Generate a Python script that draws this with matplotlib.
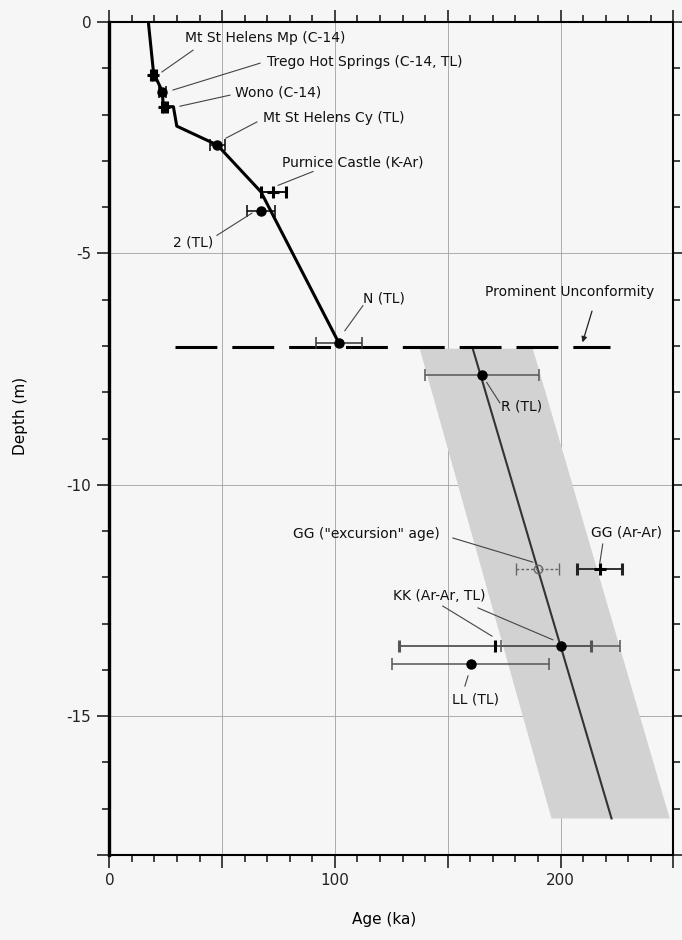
import matplotlib
matplotlib.use("Agg")
import matplotlib.pyplot as plt
from matplotlib.ticker import MultipleLocator

# age-depth model, upper section (ka, m)
upper_age = [17.3, 19.6, 23.5, 23.9, 28.4, 29.9, 47.9, 67.2, 101.8]
upper_depth = [0.0, -1.1, -1.5, -1.83, -1.83, -2.25, -2.66, -3.67, -6.94]

# age-depth model below the unconformity
lower_age = [161.1, 189.9, 200.0, 222.6]
lower_depth = [-7.06, -11.82, -13.48, -17.21]

# uncertainty envelope of the lower model
band_age = [137.6, 187.7, 248.4, 196.0]
band_depth = [-7.06, -7.06, -17.21, -17.21]

# unconformity
unconf_age = [29.1, 221.9]
unconf_depth = [-7.03, -7.03]

# dated horizons: filled circles
dot_names = ["Trego Hot Springs", "Mt St Helens Cy", "2", "N", "R", "KK TL", "LL"]
dot_age = [23.5, 47.9, 67.2, 101.8, 165.1, 200.0, 160.1]
dot_depth = [-1.51, -2.66, -4.08, -6.94, -7.62, -13.48, -13.88]
dot_err = [1.6, 3.3, 6.05, 10.2, 25.2, 26.3, 34.7]
dot_color = ["black", "black", "black", "#333333", "#555555", "#555555", "#555555"]

# dated horizons: crosses
cross_names = ["Mt St Helens Mp", "Wono", "Purnice Castle", "GG Ar-Ar", "KK Ar-Ar"]
cross_age = [19.5, 24.4, 72.7, 217.4, 170.9]
cross_depth = [-1.15, -1.83, -3.67, -11.82, -13.48]
cross_err = [1.0, 1.2, 5.5, 9.9, 42.5]
cross_color = ["black", "black", "black", "#222222", "#555555"]

# GG "excursion" age (open symbol, dashed bar)
exc_age, exc_depth, exc_err = 189.8, -11.82, 9.7

# labels: text, text position, leader start, leader end
labels = [
    ("Mt St Helens Mp (C-14)", 33.5, -0.35, "left", (37.1, -0.61), (23.3, -1.08)),
    ("Trego Hot Springs (C-14, TL)", 69.9, -0.87, "left", (66.8, -0.89), (28.2, -1.47)),
    ("Wono (C-14)", 55.7, -1.52, "left", (53.5, -1.58), (31.3, -1.82)),
    ("Mt St Helens Cy (TL)", 68.0, -2.08, "left", (65.4, -2.16), (51.7, -2.51)),
    ("Purnice Castle (K-Ar)", 76.4, -3.03, "left", (90.3, -3.23), (74.8, -3.53)),
    ("2 (TL)", 45.9, -4.76, "right", (47.7, -4.61), (63.2, -4.13)),
    ("N (TL)", 112.4, -5.97, "left", (112.4, -6.13), (104.4, -6.67)),
    ("R (TL)", 173.4, -8.31, "left", (173.1, -8.23), (167.3, -7.79)),
    ('GG ("excursion" age)', 146.5, -11.06, "right", (152.3, -11.15), (187.7, -11.67)),
    ("GG (Ar-Ar)", 213.7, -11.04, "left", (218.7, -11.28), (217.4, -11.69)),
    ("KK (Ar-Ar, TL)", 125.7, -12.40, "left", (147.8, -12.62), (169.6, -13.27)),
    ("LL (TL)", 151.8, -14.63, "left", (159.0, -14.13), (157.6, -14.35)),
]
kk_extra_leader = ((163.4, -12.66), (196.6, -13.35))

plt.rcParams["font.family"] = "DejaVu Sans"
plt.rcParams["axes.unicode_minus"] = False

bg = "#f6f6f6"
fig = plt.figure(figsize=(6.82, 9.4), dpi=100, facecolor=bg)
ax = fig.add_axes([0.1603, 0.0904, 0.827, 0.8862], facecolor=bg)

ax.set_xlim(0, 250)
ax.set_ylim(-18, 0)

ax.grid(True, which="major", color="#a0a0a0", lw=0.6, zorder=0)
ax.set_axisbelow(True)

ax.fill(band_age, band_depth, color="#d2d2d2", lw=0, zorder=1)

ax.plot(upper_age, upper_depth, color="black", lw=2.2, zorder=3)
ax.plot(lower_age, lower_depth, color="#333333", lw=1.5, zorder=3)
ax.plot(unconf_age, unconf_depth, color="black", lw=2.2, dashes=(13.7, 4.9),
        solid_capstyle="butt", dash_capstyle="butt", zorder=3)

for a, d, e, c in zip(dot_age, dot_depth, dot_err, dot_color):
    ax.errorbar(a, d, xerr=e, fmt="o", color=c, mfc="black", mec="black", ms=6.5,
                ecolor=c, elinewidth=1.1, capsize=4, capthick=1.1, zorder=4)

for i, (a, d, e, c) in enumerate(zip(cross_age, cross_depth, cross_err, cross_color)):
    mk = "|" if cross_names[i] == "KK Ar-Ar" else "+"
    ax.errorbar(a, d, xerr=e, fmt=mk, color="black", ms=9, mew=2.2,
                ecolor=c, elinewidth=1.3, capsize=4, capthick=1.1, zorder=4)

eb = ax.errorbar(exc_age, exc_depth, xerr=exc_err, fmt="o", mfc="none", mec="#666666",
                 ms=6, ecolor="#666666", elinewidth=1.0, capsize=4, capthick=1.0, zorder=4)
eb[2][0].set_linestyle((0, (2, 1.5)))

for txt, tx, ty, ha, p0, p1 in labels:
    ax.text(tx, ty, txt, ha=ha, va="center", fontsize=10, color="#111111", zorder=5)
    ax.plot([p0[0], p1[0]], [p0[1], p1[1]], color="#444444", lw=0.8, zorder=5)
ax.plot([kk_extra_leader[0][0], kk_extra_leader[1][0]],
        [kk_extra_leader[0][1], kk_extra_leader[1][1]], color="#444444", lw=0.8, zorder=5)

ax.text(166.5, -5.84, "Prominent Unconformity", ha="left", va="center", fontsize=10,
        color="#111111", zorder=5)
ax.annotate("", xy=(209.4, -6.98), xytext=(214.3, -6.19),
            arrowprops=dict(arrowstyle="-|>", color="#222222", lw=0.9,
                            mutation_scale=8), zorder=5)

ax.set_xticks([0, 50, 100, 150, 200, 250])
ax.set_xticklabels(["0", "", "100", "", "200", ""])
ax.xaxis.set_minor_locator(MultipleLocator(10))
ax.set_yticks([0, -5, -10, -15, -18])
ax.set_yticklabels(["0", "-5", "-10", "-15", ""])
ax.yaxis.set_minor_locator(MultipleLocator(1))

ax.tick_params(which="both", direction="out", top=True, right=True, width=1.2,
               colors="#222222", labelsize=11)
ax.tick_params(which="major", length=9, pad=4)
ax.tick_params(which="minor", length=5)

for s in ["top", "right", "bottom"]:
    ax.spines[s].set_linewidth(1.5)
ax.spines["left"].set_linewidth(2.4)

ax.set_xlabel("Age (ka)", fontsize=11)
ax.set_ylabel("Depth (m)", fontsize=11)
ax.xaxis.set_label_coords(0.488, -0.068)
ax.yaxis.set_label_coords(-0.145, 0.527)

fig.savefig("out.png", dpi=100, facecolor=bg)
